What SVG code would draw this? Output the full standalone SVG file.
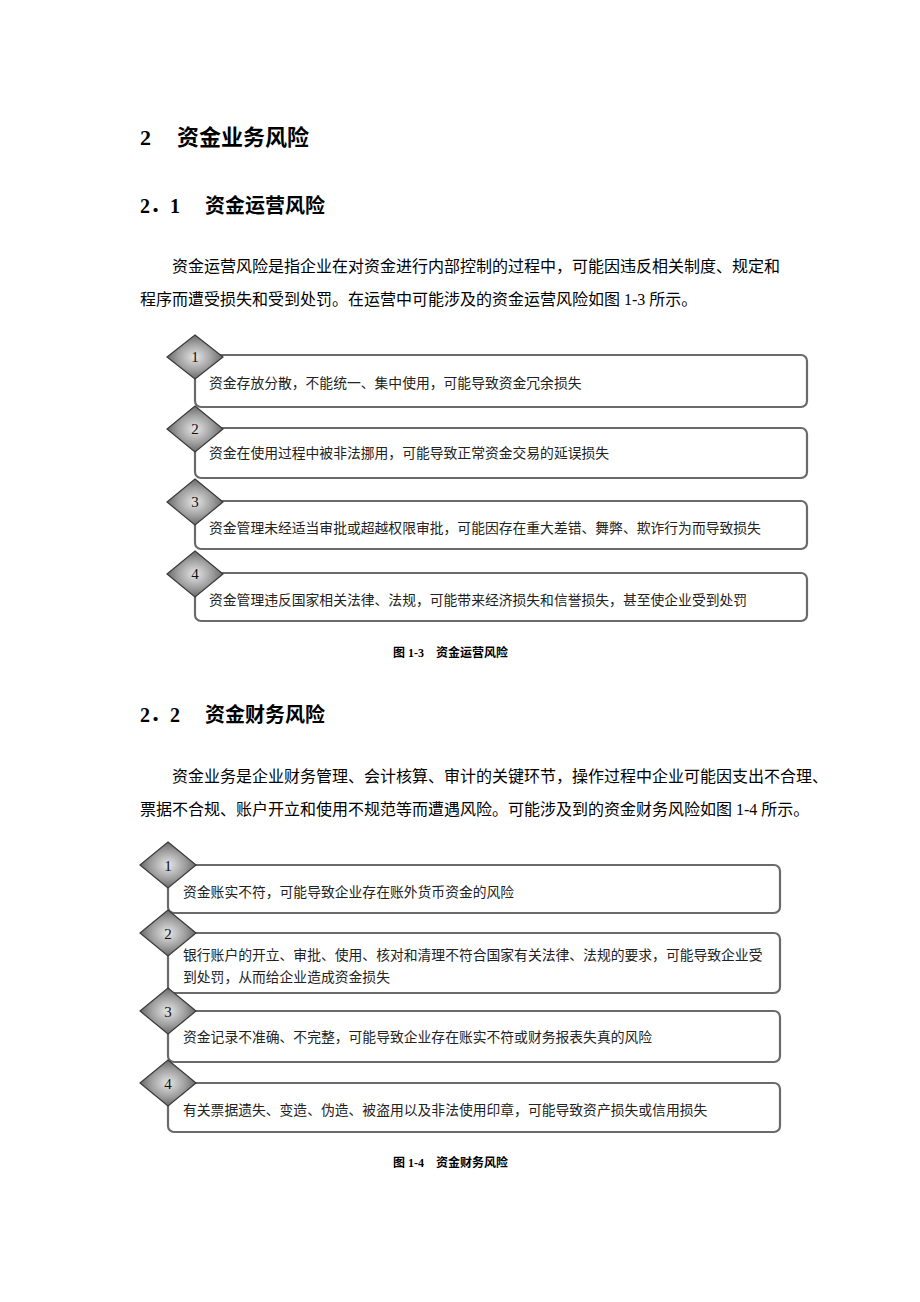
<svg xmlns="http://www.w3.org/2000/svg" width="920" height="1302" viewBox="0 0 920 1302">
<style>
.h1{font-family:"Liberation Serif","Noto Sans CJK SC",serif;font-size:22px;font-weight:bold;fill:#000}
.h2{font-family:"Liberation Serif","Noto Sans CJK SC",serif;font-size:20px;font-weight:bold;fill:#000}
.p{font-family:"Liberation Serif","Noto Sans CJK SC",serif;font-size:16px;fill:#000}
.cap{font-family:"Liberation Serif","Noto Sans CJK SC",serif;font-size:12px;font-weight:bold;fill:#000}
.t{font-family:"Liberation Serif","Noto Sans CJK SC",serif;font-size:13.8px;fill:#222}
.n{font-family:"Liberation Serif",serif;font-size:15px;fill:#111;text-anchor:middle}
.box{fill:#fff;stroke:#6a6a6a;stroke-width:2.2}
.dia{fill:url(#g);stroke:#3a3a3a;stroke-width:1.2}
</style>
<defs>
<radialGradient id="g" cx="0.5" cy="0.5" r="0.55">
<stop offset="0" stop-color="#e6e6e6"/>
<stop offset="0.55" stop-color="#a0a0a0"/>
<stop offset="1" stop-color="#5a5a5a"/>
</radialGradient>
</defs>
<rect width="920" height="1302" fill="#fff"/>
<text class="h1" x="140" y="145">2</text>
<text class="h1" x="177" y="145">资金业务风险</text>
<text class="h2" x="140" y="213">2．1</text>
<text class="h2" x="205" y="213">资金运营风险</text>
<text class="p" x="172" y="272">资金运营风险是指企业在对资金进行内部控制的过程中，可能因违反相关制度、规定和</text>
<text class="p" x="140" y="305">程序而遭受损失和受到处罚。在运营中可能涉及的资金运营风险如图 1-3 所示。</text>

<g id="f1n1"><rect class="box" x="195" y="355" width="612" height="52" rx="6"/><polygon class="dia" points="195,335 223,357 195,379 167,357"/><text class="n" x="195" y="362">1</text><text class="t" x="209" y="388">资金存放分散，不能统一、集中使用，可能导致资金冗余损失</text></g>
<g id="f1n2"><rect class="box" x="195" y="428" width="612" height="50" rx="6"/><polygon class="dia" points="195,406 223,429 195,452 167,429"/><text class="n" x="195" y="434">2</text><text class="t" x="209" y="458">资金在使用过程中被非法挪用，可能导致正常资金交易的延误损失</text></g>
<g id="f1n3"><rect class="box" x="195" y="501" width="612" height="48" rx="6"/><polygon class="dia" points="195,479 223,502 195,525 167,502"/><text class="n" x="195" y="507">3</text><text class="t" x="209" y="533">资金管理未经适当审批或超越权限审批，可能因存在重大差错、舞弊、欺诈行为而导致损失</text></g>
<g id="f1n4"><rect class="box" x="195" y="573" width="612" height="48" rx="6"/><polygon class="dia" points="195,551 223,574 195,597 167,574"/><text class="n" x="195" y="579">4</text><text class="t" x="209" y="605">资金管理违反国家相关法律、法规，可能带来经济损失和信誉损失，甚至使企业受到处罚</text></g>
<text class="cap" x="393" y="657">图 1-3　资金运营风险</text>

<text class="h2" x="140" y="722">2．2</text>
<text class="h2" x="205" y="722">资金财务风险</text>
<text class="p" x="172" y="782">资金业务是企业财务管理、会计核算、审计的关键环节，操作过程中企业可能因支出不合理、</text>
<text class="p" x="140" y="815">票据不合规、账户开立和使用不规范等而遭遇风险。可能涉及到的资金财务风险如图 1-4 所示。</text>

<g id="f2n1"><rect class="box" x="168" y="865" width="612" height="48" rx="6"/><polygon class="dia" points="168,842 196,865 168,888 140,865"/><text class="n" x="168" y="871">1</text><text class="t" x="183" y="897">资金账实不符，可能导致企业存在账外货币资金的风险</text></g>
<g id="f2n2"><rect class="box" x="168" y="933" width="612" height="60" rx="6"/><polygon class="dia" points="168,910 196,933 168,956 140,933"/><text class="n" x="168" y="939">2</text><text class="t" x="183" y="960">银行账户的开立、审批、使用、核对和清理不符合国家有关法律、法规的要求，可能导致企业受</text><text class="t" x="183" y="982">到处罚，从而给企业造成资金损失</text></g>
<g id="f2n3"><rect class="box" x="168" y="1011" width="612" height="51" rx="6"/><polygon class="dia" points="168,988 196,1011 168,1034 140,1011"/><text class="n" x="168" y="1017">3</text><text class="t" x="183" y="1042">资金记录不准确、不完整，可能导致企业存在账实不符或财务报表失真的风险</text></g>
<g id="f2n4"><rect class="box" x="168" y="1083" width="612" height="49" rx="6"/><polygon class="dia" points="168,1060 196,1083 168,1106 140,1083"/><text class="n" x="168" y="1089">4</text><text class="t" x="183" y="1115">有关票据遗失、变造、伪造、被盗用以及非法使用印章，可能导致资产损失或信用损失</text></g>
<text class="cap" x="393" y="1167">图 1-4　资金财务风险</text>
</svg>
